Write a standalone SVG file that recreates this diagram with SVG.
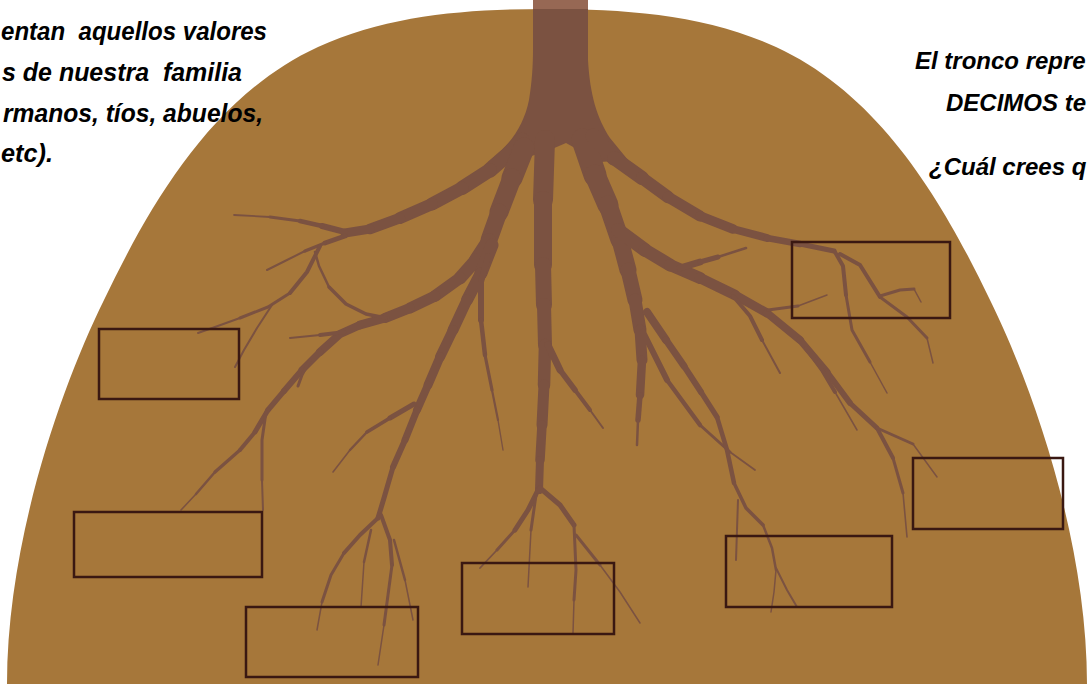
<svg xmlns="http://www.w3.org/2000/svg" width="1090" height="684" viewBox="0 0 1090 684">
  <style>
    .root { fill: none; stroke: #7b5241; stroke-linecap: round; stroke-linejoin: round; }
    .box { fill: none; stroke: #3a1812; stroke-width: 2.5; }
    .txt { font-family: "Liberation Sans", Arial, sans-serif; font-weight: bold; font-style: italic; font-size: 24px; fill: #000; }
    .big { font-size: 25.5px; }
  </style>

  <rect width="1090" height="684" fill="#ffffff"/>

  <!-- soil mound -->
  <g id="ground">
    <path d="M7,684 C7,540 62,385 104,300 C152,200 214,95 318,47 C388,15 467,9 547,9 C627,9 706,15 776,47 C880,95 942,200 990,300 C1032,385 1087,540 1087,684 Z" fill="#a6773a"/>
  </g>

  <!-- trunk and root system -->
  <g id="roots">
    <rect x="533" y="0" width="55" height="10" fill="#976854"/>
    <path d="M533,9 L588,9 L588,60 C590,95 597,118 610,138 L628,160 L600,162 L566,143 L545,152 L500,165 L488,162 C510,146 524,125 529,100 C532,82 533,65 533,50 Z" fill="#7b5241"/>

    <!-- upper left branch -->
    <path class="root" stroke-width="15" d="M522,140 L506,156 L490,170"/>
    <path class="root" stroke-width="14" d="M490,170 L462,188"/>
    <path class="root" stroke-width="13" d="M462,188 L432,204"/>
    <path class="root" stroke-width="12" d="M432,204 L400,218"/>
    <path class="root" stroke-width="10.5" d="M400,218 L370,229"/>
    <path class="root" stroke-width="9" d="M370,229 L345,233"/>
    <path class="root" stroke-width="6" d="M345,232 L322,226"/>
    <path class="root" stroke-width="4.5" d="M322,226 L300,221"/>
    <path class="root" stroke-width="3" d="M300,221 L270,217"/>
    <path class="root" stroke-width="1.8" d="M270,217 L234,215"/>
    <path class="root" stroke-width="5" d="M345,236 L325,243"/>
    <path class="root" stroke-width="3.5" d="M325,243 L305,251"/>
    <path class="root" stroke-width="2" d="M305,251 L285,261 L267,270"/>
    <path class="root" stroke-width="4" d="M320,246 L307,272 L290,293"/>
    <path class="root" stroke-width="3" d="M290,293 L268,307 L240,318"/>
    <path class="root" stroke-width="2" d="M240,318 L215,327 L198,333"/>
    <path class="root" stroke-width="2" d="M272,305 L257,328 L244,350 L235,367"/>

    <!-- shared base of the two left roots -->
    <path class="root" stroke-width="21" d="M524,148 L512,178"/>
    <path class="root" stroke-width="19" d="M512,178 L499,212"/>
    <path class="root" stroke-width="17" d="M499,212 L489,240"/>

    <!-- left root towards the wide box -->
    <path class="root" stroke-width="14" d="M489,240 L476,260"/>
    <path class="root" stroke-width="13" d="M476,260 L460,278"/>
    <path class="root" stroke-width="12" d="M460,278 L435,296"/>
    <path class="root" stroke-width="11" d="M435,296 L410,308"/>
    <path class="root" stroke-width="10" d="M410,308 L385,318"/>
    <path class="root" stroke-width="9" d="M385,318 L360,325"/>
    <path class="root" stroke-width="8" d="M360,325 L340,334 L320,352"/>
    <path class="root" stroke-width="7" d="M320,352 L302,370"/>
    <path class="root" stroke-width="6" d="M302,370 L284,391"/>
    <path class="root" stroke-width="5.5" d="M284,391 L268,410"/>
    <path class="root" stroke-width="5" d="M268,410 L255,432"/>
    <path class="root" stroke-width="4" d="M255,432 L240,450"/>
    <path class="root" stroke-width="3.3" d="M240,450 L215,472"/>
    <path class="root" stroke-width="2.5" d="M215,472 L196,494"/>
    <path class="root" stroke-width="1.6" d="M196,494 L181,510"/>
    <path class="root" stroke-width="4" d="M345,332 L320,335"/>
    <path class="root" stroke-width="2" d="M320,335 L290,338"/>
    <path class="root" stroke-width="3.5" d="M386,318 L366,314 L346,304 L329,287"/>
    <path class="root" stroke-width="2.5" d="M329,287 L319,266 L315,252"/>
    <path class="root" stroke-width="3" d="M266,412 L262,440 L262,480"/>
    <path class="root" stroke-width="2" d="M262,480 L263,510"/>
    <path class="root" stroke-width="3" d="M310,360 L302,375 L298,386"/>

    <!-- middle left root -->
    <path class="root" stroke-width="13" d="M492,245 L481,273"/>
    <path class="root" stroke-width="12" d="M481,273 L467,300"/>
    <path class="root" stroke-width="11" d="M467,300 L453,330"/>
    <path class="root" stroke-width="10" d="M453,330 L440,357"/>
    <path class="root" stroke-width="9" d="M440,357 L428,385"/>
    <path class="root" stroke-width="8" d="M428,385 L417,410"/>
    <path class="root" stroke-width="7" d="M417,410 L405,440"/>
    <path class="root" stroke-width="6" d="M405,440 L393,467"/>
    <path class="root" stroke-width="5" d="M393,467 L384,498 L378,518"/>
    <path class="root" stroke-width="5" d="M414,404 L390,418"/>
    <path class="root" stroke-width="3.8" d="M390,418 L367,432"/>
    <path class="root" stroke-width="2.5" d="M367,432 L350,450"/>
    <path class="root" stroke-width="1.6" d="M350,450 L333,472"/>
    <path class="root" stroke-width="4" d="M378,518 L360,535 L344,553"/>
    <path class="root" stroke-width="3" d="M344,553 L331,575 L322,602"/>
    <path class="root" stroke-width="1.5" d="M322,602 L317,630"/>
    <path class="root" stroke-width="2.5" d="M371,530 L364,562"/>
    <path class="root" stroke-width="1.5" d="M364,562 L361,607"/>
    <path class="root" stroke-width="4" d="M381,515 L390,540 L392,565"/>
    <path class="root" stroke-width="3" d="M392,565 L388,595 L384,625"/>
    <path class="root" stroke-width="1.5" d="M384,625 L378,665"/>
    <path class="root" stroke-width="2.5" d="M394,540 L405,580"/>
    <path class="root" stroke-width="1.5" d="M405,580 L413,620"/>

    <!-- thin root between left and centre -->
    <path class="root" stroke-width="6" d="M488,256 L481,282 L481,320"/>
    <path class="root" stroke-width="4.5" d="M481,320 L485,355"/>
    <path class="root" stroke-width="3.2" d="M485,355 L492,390"/>
    <path class="root" stroke-width="2.2" d="M492,390 L498,420"/>
    <path class="root" stroke-width="1.4" d="M498,420 L503,450"/>

    <!-- central root -->
    <path class="root" stroke-width="20" d="M545,140 L543,200"/>
    <path class="root" stroke-width="18" d="M543,200 L543,265"/>
    <path class="root" stroke-width="16" d="M543,265 L544,305"/>
    <path class="root" stroke-width="14" d="M544,305 L545,345"/>
    <path class="root" stroke-width="12.5" d="M545,345 L544,385"/>
    <path class="root" stroke-width="11" d="M544,385 L542,425"/>
    <path class="root" stroke-width="9.5" d="M542,425 L540,460"/>
    <path class="root" stroke-width="8" d="M540,460 L539,490"/>
    <path class="root" stroke-width="7" d="M548,345 L560,370"/>
    <path class="root" stroke-width="5.5" d="M560,370 L575,390"/>
    <path class="root" stroke-width="4" d="M575,390 L590,410"/>
    <path class="root" stroke-width="2" d="M590,410 L603,428"/>
    <path class="root" stroke-width="5" d="M538,490 L528,510 L515,530"/>
    <path class="root" stroke-width="3" d="M515,530 L497,550"/>
    <path class="root" stroke-width="1.8" d="M497,550 L480,568"/>
    <path class="root" stroke-width="3" d="M536,495 L531,530"/>
    <path class="root" stroke-width="1.5" d="M531,530 L528,587"/>
    <path class="root" stroke-width="5" d="M540,488 L560,505 L574,525"/>
    <path class="root" stroke-width="3" d="M574,525 L576,570 L574,600"/>
    <path class="root" stroke-width="1.5" d="M574,600 L573,633"/>
    <path class="root" stroke-width="3" d="M576,535 L600,565"/>
    <path class="root" stroke-width="1.5" d="M600,565 L620,592 L640,623"/>

    <!-- thick root right of centre -->
    <path class="root" stroke-width="23" d="M583,140 L595,175"/>
    <path class="root" stroke-width="21" d="M595,175 L608,205"/>
    <path class="root" stroke-width="19" d="M608,205 L620,240"/>
    <path class="root" stroke-width="17" d="M620,240 L628,270"/>
    <path class="root" stroke-width="15" d="M628,270 L635,300"/>
    <path class="root" stroke-width="13" d="M635,300 L640,330"/>
    <path class="root" stroke-width="11" d="M640,330 L642,360"/>
    <path class="root" stroke-width="8.5" d="M642,360 L640,395"/>
    <path class="root" stroke-width="5.5" d="M640,395 L638,420"/>
    <path class="root" stroke-width="2.5" d="M638,420 L637,445"/>
    <path class="root" stroke-width="6" d="M643,332 L667,380"/>
    <path class="root" stroke-width="4.5" d="M667,380 L700,425"/>
    <path class="root" stroke-width="3" d="M700,425 L730,452"/>
    <path class="root" stroke-width="1.8" d="M730,452 L755,470"/>
    <path class="root" stroke-width="8" d="M647,312 L666,340"/>
    <path class="root" stroke-width="7" d="M666,340 L684,366"/>
    <path class="root" stroke-width="6" d="M684,366 L701,392"/>
    <path class="root" stroke-width="5.2" d="M701,392 L717,417"/>
    <path class="root" stroke-width="4.5" d="M717,417 L727,450 L734,483"/>
    <path class="root" stroke-width="3.5" d="M734,483 L746,508 L763,525"/>
    <path class="root" stroke-width="2.5" d="M763,525 L772,548 L776,570"/>
    <path class="root" stroke-width="1.5" d="M776,570 L774,592 L771,612"/>
    <path class="root" stroke-width="2" d="M776,568 L787,590 L797,607"/>
    <path class="root" stroke-width="2" d="M738,500 L737,530 L736,560"/>

    <!-- upper right branch -->
    <path class="root" stroke-width="15" d="M593,136 L614,158"/>
    <path class="root" stroke-width="14" d="M614,158 L642,178"/>
    <path class="root" stroke-width="12.5" d="M642,178 L668,197"/>
    <path class="root" stroke-width="11" d="M668,197 L700,216"/>
    <path class="root" stroke-width="9.5" d="M700,216 L733,229"/>
    <path class="root" stroke-width="8" d="M733,229 L767,238"/>
    <path class="root" stroke-width="6.5" d="M767,238 L800,244"/>
    <path class="root" stroke-width="5" d="M800,244 L834,251"/>
    <path class="root" stroke-width="4" d="M835,252 L843,266 L846,295"/>
    <path class="root" stroke-width="3" d="M846,295 L852,330 L870,362"/>
    <path class="root" stroke-width="1.5" d="M870,362 L887,393"/>
    <path class="root" stroke-width="4" d="M840,254 L860,265 L880,297"/>
    <path class="root" stroke-width="3" d="M880,297 L907,317 L927,338"/>
    <path class="root" stroke-width="1.5" d="M927,338 L933,363"/>
    <path class="root" stroke-width="3" d="M880,296 L900,290 L914,289"/>
    <path class="root" stroke-width="1.5" d="M914,289 L921,302"/>

    <!-- right branch -->
    <path class="root" stroke-width="14" d="M618,230 L645,250"/>
    <path class="root" stroke-width="13" d="M645,250 L670,265"/>
    <path class="root" stroke-width="12" d="M670,265 L700,278"/>
    <path class="root" stroke-width="10.5" d="M700,278 L735,295"/>
    <path class="root" stroke-width="9" d="M735,295 L767,313"/>
    <path class="root" stroke-width="8" d="M767,313 L800,340"/>
    <path class="root" stroke-width="7" d="M800,340 L827,372"/>
    <path class="root" stroke-width="6" d="M827,372 L850,403"/>
    <path class="root" stroke-width="5" d="M850,403 L877,428"/>
    <path class="root" stroke-width="4" d="M877,428 L893,458"/>
    <path class="root" stroke-width="3" d="M893,458 L903,493"/>
    <path class="root" stroke-width="1.6" d="M903,493 L907,537"/>
    <path class="root" stroke-width="7" d="M680,268 L700,262"/>
    <path class="root" stroke-width="5" d="M700,262 L718,257"/>
    <path class="root" stroke-width="2.5" d="M718,257 L746,248"/>
    <path class="root" stroke-width="4" d="M733,296 L750,316 L762,340"/>
    <path class="root" stroke-width="2" d="M762,340 L780,373"/>
    <path class="root" stroke-width="4" d="M806,348 L822,370 L835,392"/>
    <path class="root" stroke-width="1.5" d="M835,392 L857,430"/>
    <path class="root" stroke-width="3" d="M877,428 L913,444"/>
    <path class="root" stroke-width="1.5" d="M913,444 L937,477"/>
    <path class="root" stroke-width="3" d="M768,310 L798,306"/>
    <path class="root" stroke-width="1.5" d="M798,306 L827,295"/>
  </g>

  <!-- empty label boxes -->
  <g id="box-1"><rect class="box" x="99" y="329" width="140" height="70"/></g>
  <g id="box-2"><rect class="box" x="74" y="512" width="188" height="65"/></g>
  <g id="box-3"><rect class="box" x="246" y="607" width="172" height="70"/></g>
  <g id="box-4"><rect class="box" x="462" y="563" width="152" height="71"/></g>
  <g id="box-5"><rect class="box" x="792" y="242" width="158" height="76"/></g>
  <g id="box-6"><rect class="box" x="913" y="458" width="150" height="71"/></g>
  <g id="box-7"><rect class="box" x="726" y="536" width="166" height="71"/></g>

  <!-- captions -->
  <g id="text-left">
    <text class="txt big" x="1" y="40" textLength="266" lengthAdjust="spacingAndGlyphs" xml:space="preserve">entan  aquellos valores</text>
    <text class="txt big" x="2" y="81" textLength="240" lengthAdjust="spacingAndGlyphs" xml:space="preserve">s de nuestra  familia</text>
    <text class="txt big" x="3" y="122" textLength="260" lengthAdjust="spacingAndGlyphs">rmanos, tíos, abuelos,</text>
    <text class="txt big" x="1" y="162" textLength="52" lengthAdjust="spacingAndGlyphs">etc).</text>
  </g>
  <g id="text-right">
    <text class="txt" x="915" y="69">El tronco repre</text>
    <text class="txt" x="946" y="111">DECIMOS te</text>
    <text class="txt" x="929" y="175">¿Cuál crees q</text>
  </g>
</svg>
